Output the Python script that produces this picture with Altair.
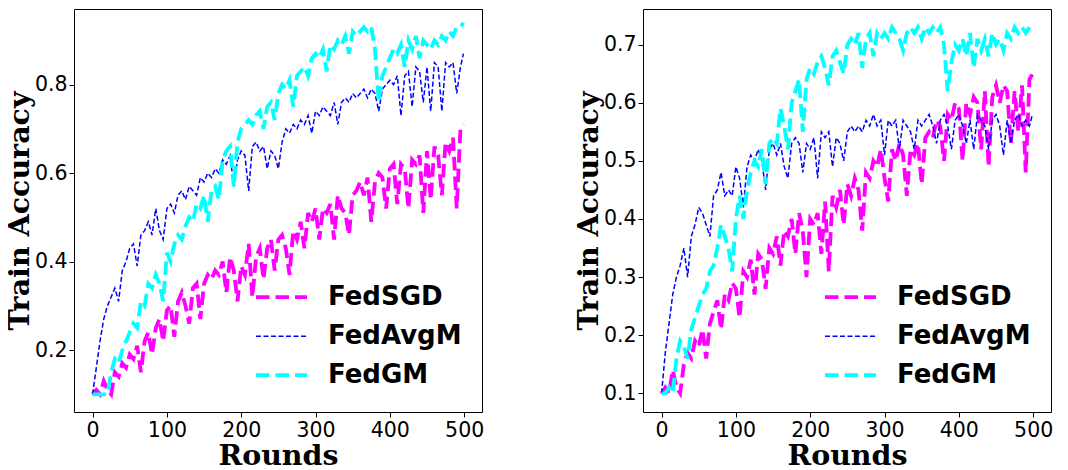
import altair as alt
import pandas as pd

rounds = list(range(0, 500, 5)) + [499]
methods = ["FedSGD", "FedAvgM", "FedGM"]
colors = ["#ff00ff", "#0000ff", "#00ffff"]
dashes = [[13.5, 6], [5, 2.5], [13.5, 6]]
widths = [3.8, 1.5, 3.8]

left_fedsgd = [
    0.10, 0.11, 0.10, 0.13, 0.11, 0.10, 0.15, 0.14, 0.17, 0.16,
    0.19, 0.18, 0.21, 0.15, 0.22, 0.24, 0.19, 0.25, 0.27, 0.22,
    0.29, 0.30, 0.23, 0.31, 0.33, 0.30, 0.26, 0.34, 0.35, 0.27,
    0.35, 0.37, 0.36, 0.38, 0.37, 0.40, 0.33, 0.41, 0.38, 0.31,
    0.39, 0.37, 0.44, 0.32, 0.41, 0.43, 0.36, 0.43, 0.45, 0.38,
    0.45, 0.46, 0.43, 0.37, 0.47, 0.45, 0.49, 0.43, 0.51, 0.49,
    0.52, 0.45, 0.52, 0.51, 0.53, 0.45, 0.55, 0.52, 0.51, 0.46,
    0.55, 0.56, 0.58, 0.55, 0.59, 0.49, 0.58, 0.60, 0.59, 0.52,
    0.61, 0.62, 0.53, 0.62, 0.61, 0.52, 0.63, 0.62, 0.64, 0.51,
    0.65, 0.54, 0.66, 0.64, 0.55, 0.67, 0.65, 0.68, 0.52, 0.70,
    0.71,
]
left_fedavgm = [
    0.10, 0.16, 0.22, 0.27, 0.30, 0.32, 0.34, 0.31, 0.38, 0.40,
    0.43, 0.44, 0.39, 0.46, 0.47, 0.49, 0.46, 0.52, 0.47, 0.45,
    0.52, 0.53, 0.51, 0.55, 0.56, 0.54, 0.57, 0.56, 0.55, 0.59,
    0.58, 0.60, 0.59, 0.61, 0.60, 0.63, 0.62, 0.64, 0.57, 0.63,
    0.65, 0.64, 0.56, 0.66, 0.67, 0.65, 0.66, 0.61, 0.65, 0.64,
    0.61, 0.67, 0.70, 0.69, 0.71, 0.70, 0.72, 0.71, 0.73, 0.69,
    0.74, 0.73, 0.75, 0.74, 0.73, 0.76, 0.71, 0.76, 0.77, 0.76,
    0.78, 0.77, 0.78, 0.79, 0.77, 0.79, 0.78, 0.74, 0.79, 0.80,
    0.81, 0.80, 0.82, 0.73, 0.82, 0.83, 0.75, 0.84, 0.83, 0.76,
    0.84, 0.74, 0.85, 0.84, 0.74, 0.85, 0.84, 0.85, 0.78, 0.84,
    0.87,
]
left_fedgm = [
    0.10, 0.10, 0.10, 0.10, 0.10, 0.15, 0.18, 0.17, 0.20, 0.22,
    0.24, 0.26, 0.25, 0.31, 0.30, 0.35, 0.34, 0.37, 0.35, 0.31,
    0.42, 0.40, 0.44, 0.46, 0.45, 0.48, 0.50, 0.49, 0.53, 0.52,
    0.55, 0.49, 0.56, 0.57, 0.54, 0.63, 0.65, 0.66, 0.57, 0.67,
    0.70, 0.71, 0.72, 0.71, 0.73, 0.74, 0.70, 0.75, 0.76, 0.72,
    0.78, 0.80, 0.79, 0.81, 0.75, 0.82, 0.83, 0.84, 0.82, 0.86,
    0.87, 0.86, 0.88, 0.83, 0.89, 0.88, 0.90, 0.89, 0.91, 0.87,
    0.92, 0.91, 0.92, 0.93, 0.92, 0.93, 0.88, 0.76, 0.82, 0.84,
    0.86, 0.88, 0.87, 0.89, 0.84, 0.90, 0.88, 0.91, 0.86, 0.90,
    0.89, 0.88, 0.90, 0.89, 0.91, 0.90, 0.92, 0.91, 0.93, 0.93,
    0.94,
]

right_fedsgd = [
    0.10, 0.11, 0.10, 0.14, 0.11, 0.10, 0.15, 0.17, 0.16, 0.19,
    0.18, 0.21, 0.16, 0.22, 0.24, 0.26, 0.21, 0.27, 0.26, 0.29,
    0.28, 0.23, 0.31, 0.30, 0.33, 0.27, 0.34, 0.33, 0.28, 0.35,
    0.34, 0.37, 0.32, 0.38, 0.37, 0.40, 0.34, 0.41, 0.38, 0.30,
    0.40, 0.39, 0.41, 0.34, 0.43, 0.31, 0.44, 0.42, 0.45, 0.39,
    0.46, 0.44, 0.47, 0.45, 0.38, 0.48, 0.47, 0.50, 0.49, 0.52,
    0.47, 0.43, 0.52, 0.50, 0.53, 0.51, 0.44, 0.52, 0.51, 0.53,
    0.46, 0.54, 0.55, 0.54, 0.57, 0.56, 0.50, 0.58, 0.57, 0.60,
    0.59, 0.50, 0.60, 0.58, 0.61, 0.60, 0.52, 0.62, 0.49, 0.61,
    0.63, 0.60, 0.63, 0.62, 0.53, 0.62, 0.55, 0.63, 0.48, 0.64,
    0.65,
]
right_fedavgm = [
    0.10, 0.17, 0.22, 0.27, 0.30, 0.32, 0.35, 0.30, 0.37, 0.39,
    0.42, 0.41, 0.39, 0.37, 0.44, 0.45, 0.48, 0.44, 0.45, 0.44,
    0.49, 0.47, 0.42, 0.49, 0.51, 0.50, 0.52, 0.50, 0.45, 0.52,
    0.53, 0.51, 0.53, 0.49, 0.47, 0.53, 0.54, 0.53, 0.48, 0.53,
    0.52, 0.54, 0.47, 0.55, 0.54, 0.55, 0.49, 0.54, 0.53, 0.50,
    0.55, 0.56, 0.55, 0.56, 0.55, 0.57, 0.56, 0.58, 0.56, 0.57,
    0.51, 0.57, 0.56, 0.57, 0.52, 0.57, 0.56, 0.55, 0.52, 0.57,
    0.56, 0.57, 0.58, 0.56, 0.53, 0.57, 0.58, 0.56, 0.52, 0.57,
    0.58, 0.56, 0.53, 0.57, 0.52, 0.58, 0.57, 0.56, 0.52, 0.57,
    0.58, 0.56, 0.51, 0.57, 0.53, 0.57, 0.58, 0.56, 0.57, 0.56,
    0.58,
]
right_fedgm = [
    0.10, 0.10, 0.11, 0.10, 0.16, 0.19, 0.18, 0.16, 0.21, 0.23,
    0.25, 0.27, 0.28, 0.31, 0.32, 0.35, 0.39, 0.37, 0.35, 0.31,
    0.40, 0.44, 0.40, 0.45, 0.48, 0.50, 0.49, 0.52, 0.46, 0.53,
    0.54, 0.53, 0.59, 0.56, 0.52, 0.60, 0.62, 0.64, 0.55, 0.64,
    0.66, 0.65, 0.67, 0.68, 0.66, 0.63, 0.68, 0.69, 0.67, 0.65,
    0.70, 0.71, 0.70, 0.72, 0.66, 0.71, 0.72, 0.68, 0.72, 0.71,
    0.72, 0.71, 0.73, 0.72, 0.71, 0.69, 0.72, 0.73, 0.72, 0.73,
    0.71, 0.73, 0.72, 0.73, 0.72, 0.73, 0.70, 0.62, 0.67, 0.70,
    0.69, 0.71, 0.68, 0.72, 0.66, 0.71, 0.69, 0.71, 0.68, 0.72,
    0.70, 0.71, 0.69, 0.72, 0.71, 0.73, 0.72, 0.73, 0.72, 0.73,
    0.725,
]

x_ticks = [0, 100, 200, 300, 400, 500]
left_yticks = [0.2, 0.4, 0.6, 0.8]
right_yticks = [0.1, 0.2, 0.3, 0.4, 0.5, 0.6, 0.7]


def legend():
    return alt.Legend(
        title=None, orient="none", legendX=180, legendY=269,
        symbolType="stroke", symbolSize=2601, clipHeight=38.3,
        labelFont="DejaVu Sans", labelFontWeight="bold", labelFontSize=26,
        labelColor="black", labelOffset=19, rowPadding=0, padding=0,
        labelLimit=300,
    )


def panel(sgd, avgm, gm, ydomain, yticks):
    n = len(rounds)
    df = pd.DataFrame({
        "round": rounds * 3,
        "acc": sgd + avgm + gm,
        "method": ["FedSGD"] * n + ["FedAvgM"] * n + ["FedGM"] * n,
    })
    base = alt.Chart(df)
    layers = []
    for m in methods:
        layers.append(
            base.transform_filter(alt.datum.method == m)
            .mark_line(strokeCap="butt", strokeJoin="miter", clip=True)
            .encode(
                x=alt.X("round:Q",
                        scale=alt.Scale(domain=[-25, 524], nice=False, zero=False),
                        axis=alt.Axis(values=x_ticks, title="Rounds",
                                      labelPadding=3.5, titlePadding=0)),
                y=alt.Y("acc:Q",
                        scale=alt.Scale(domain=ydomain, nice=False, zero=False),
                        axis=alt.Axis(values=yticks, format=".1f",
                                      title="Train Accuracy",
                                      labelPadding=2, titlePadding=0)),
                color=alt.Color("method:N",
                                scale=alt.Scale(domain=methods, range=colors),
                                legend=legend()),
                strokeDash=alt.StrokeDash("method:N",
                                          scale=alt.Scale(type="ordinal", domain=methods, range=dashes),
                                          legend=legend()),
                strokeWidth=alt.StrokeWidth("method:N",
                                            scale=alt.Scale(type="ordinal", domain=methods, range=widths),
                                            legend=legend()),
            )
        )
    return alt.layer(*layers).properties(width=408, height=403)


left = panel(left_fedsgd, left_fedavgm, left_fedgm, [0.06, 0.971], left_yticks)
right = panel(right_fedsgd, right_fedavgm, right_fedgm, [0.0678, 0.7614], right_yticks)

chart = (
    alt.hconcat(left, right, spacing=161, bounds="flush")
    .resolve_scale(color="independent", strokeDash="independent",
                   strokeWidth="independent", x="independent", y="independent")
    .resolve_legend(color="independent", strokeDash="independent",
                    strokeWidth="independent")
    .properties(padding={"left": -4, "top": 0, "right": 0, "bottom": 0})
    .configure_view(stroke="black", strokeWidth=1)
    .configure_axis(
        labelFont="DejaVu Sans", labelFontSize=20.5, labelColor="black",
        tickColor="black", tickSize=5, tickWidth=1, domain=False, grid=False,
        titleFont="DejaVu Serif", titleFontWeight="bold", titleFontSize=28.5,
        titleColor="black",
    )
)

chart.save("out.html", embed_options={"renderer": "svg", "actions": False})
